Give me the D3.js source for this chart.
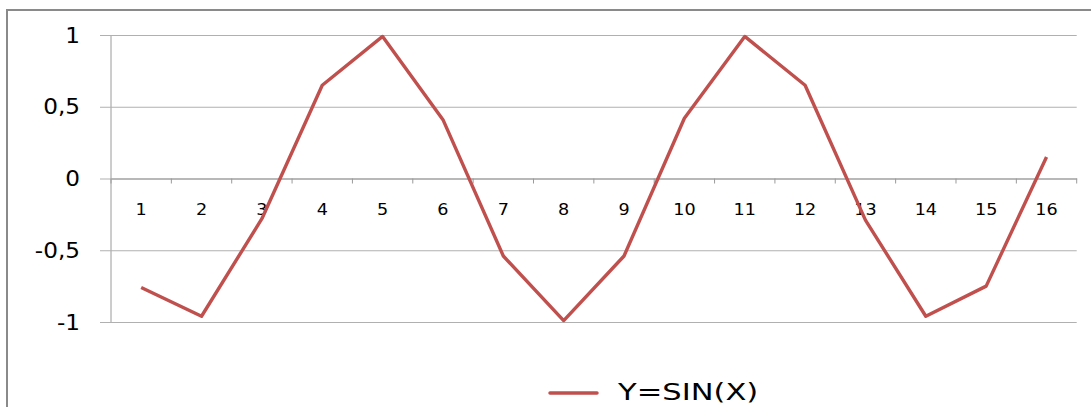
<!DOCTYPE html>
<html>
<head>
<meta charset="utf-8">
<script src="https://cdn.jsdelivr.net/npm/d3@7"></script>
<style>
  html, body { margin: 0; padding: 0; background: #fff; }
  svg { display: block; }
  text { font-family: "DejaVu Sans", sans-serif; fill: #000; }
</style>
</head>
<body>
<svg id="chart" width="1091" height="407"></svg>
<script>
const categories = ["1","2","3","4","5","6","7","8","9","10","11","12","13","14","15","16"];
const values = [-0.76, -0.96, -0.28, 0.65, 0.99, 0.41, -0.54, -0.99, -0.54, 0.42, 0.99, 0.65, -0.29, -0.96, -0.75, 0.15];
const yTicks = [-1, -0.5, 0, 0.5, 1];
const yTickLabels = ["-1", "-0,5", "0", "0,5", "1"];
const seriesName = "Y=SIN(X)";

const svg = d3.select("#chart");
const color = "#C0504D";

// outer chart border
svg.append("path")
  .attr("d", "M7,420 L7,10 L1100,10")
  .attr("fill", "none").attr("stroke", "#8a8a8a").attr("stroke-width", 2);

const x = d3.scaleBand().domain(categories).range([111, 1076.7]).padding(0);
const y = d3.scaleLinear().domain([-1, 1]).range([322, 35]);

// horizontal gridlines + y axis
const yAxis = d3.axisLeft(y).tickValues(yTicks).tickSize(11).tickFormat(() => "");
const gy = svg.append("g").attr("transform", "translate(111,0)").call(yAxis);
gy.select(".domain").attr("stroke", "#9a9a9a").attr("d", "M0," + y(1) + "V" + y(-1));
gy.selectAll(".tick line").attr("x1", -11).attr("x2", 1076.7 - 111).attr("stroke", "#b0b0b0").attr("stroke-width", 1.2);

// y labels
yTicks.forEach((v, i) => {
  svg.append("text")
    .attr("transform", "translate(80," + (y(v) + 7.5) + ") scale(1.13,1)")
    .attr("text-anchor", "end")
    .style("font-size", "20.5px")
    .text(yTickLabels[i]);
});

// x axis at y=0
const xAxis = d3.axisBottom(x).tickSize(0).tickFormat(() => "");
const gx = svg.append("g").attr("transform", "translate(0," + y(0) + ")").call(xAxis);
gx.select(".domain").attr("stroke", "#9a9a9a").attr("stroke-width", 1.2);
gx.selectAll(".tick").remove();
const bounds = categories.map(c => x(c)).concat([x(categories[categories.length - 1]) + x.bandwidth()]);
gx.selectAll("line.bt").data(bounds).enter().append("line")
  .attr("x1", d => d).attr("x2", d => d).attr("y1", 0).attr("y2", 5)
  .attr("stroke", "#9a9a9a").attr("stroke-width", 1);

// x labels
categories.forEach(c => {
  const cx = x(c) + x.bandwidth() / 2;
  svg.append("text")
    .attr("transform", "translate(" + cx + ",215) scale(1.1,1)")
    .attr("text-anchor", "middle")
    .style("font-size", "16px")
    .text(c);
});

// series line
const line = d3.line()
  .x((d, i) => x(categories[i]) + x.bandwidth() / 2)
  .y(d => y(d));
svg.append("path").datum(values)
  .attr("d", line)
  .attr("fill", "none").attr("stroke", color).attr("stroke-width", 3.4)
  .attr("stroke-linejoin", "round");

// legend
svg.append("line").attr("x1", 550).attr("x2", 597).attr("y1", 393).attr("y2", 393)
  .attr("stroke", color).attr("stroke-width", 3.5).attr("stroke-linecap", "round");
svg.append("text")
  .attr("transform", "translate(618,400) scale(1.3,1)")
  .style("font-size", "23.5px")
  .text(seriesName);
</script>
</body>
</html>
